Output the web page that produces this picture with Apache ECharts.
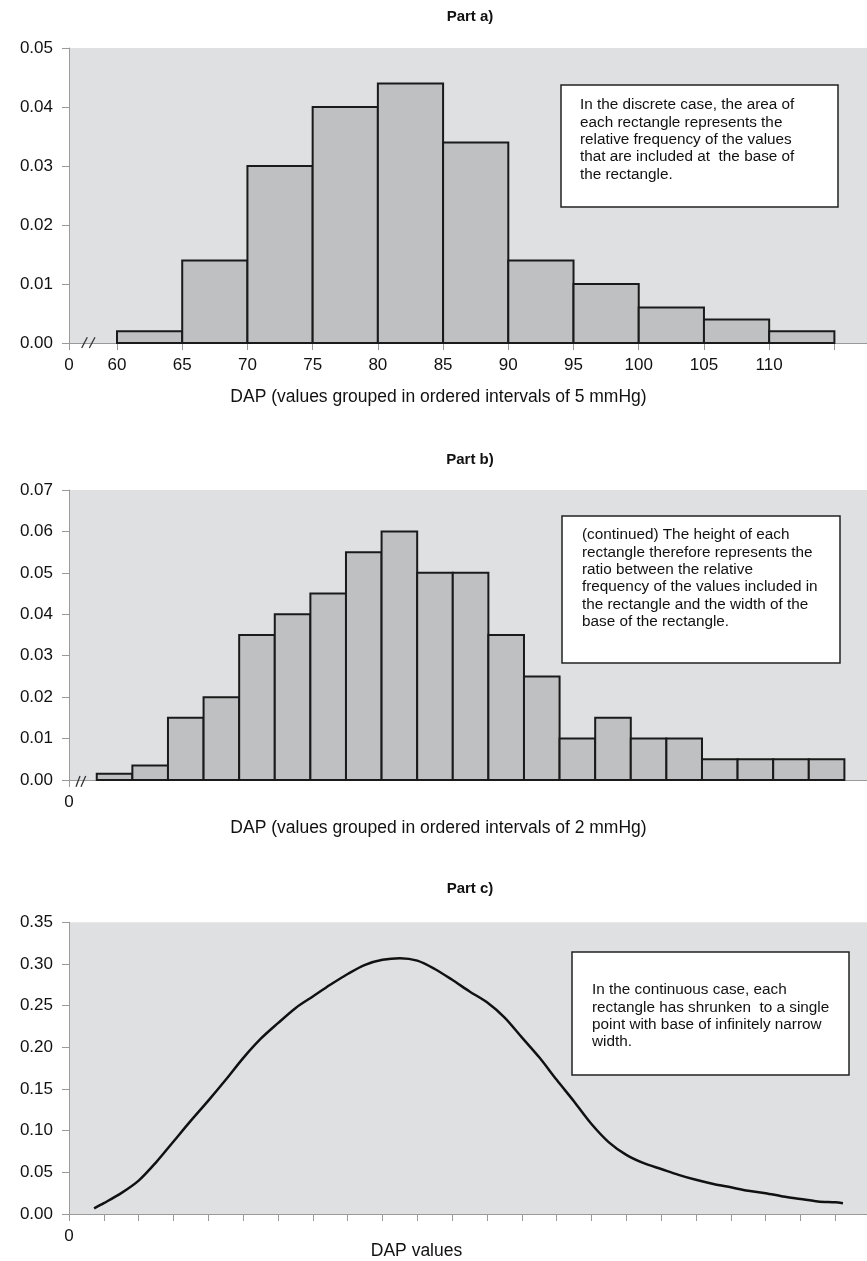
<!DOCTYPE html>
<html>
<head>
<meta charset="utf-8">
<script src="https://cdn.jsdelivr.net/npm/echarts@6/dist/echarts.min.js"></script>
<style>
html,body{margin:0;padding:0;background:#fff;}
#chart{width:867px;height:1261px;}
</style>
</head>
<body>
<div id="chart"></div>
<script>
// ---------- DATA ----------
// Part a: 5 mmHg bins
const binStartA = [60, 65, 70, 75, 80, 85, 90, 95, 100, 105, 110];
const binWidthA = 5;
const densityA = [0.002, 0.014, 0.030, 0.040, 0.044, 0.034, 0.014, 0.010, 0.006, 0.004, 0.002];
const tickLabelsA = [60, 65, 70, 75, 80, 85, 90, 95, 100, 105, 110];
const tickMarksA = [60, 65, 70, 75, 80, 85, 90, 95, 100, 105, 110, 115];

// Part b: 2 mmHg bins
const binStartB = [64, 66, 68, 70, 72, 74, 76, 78, 80, 82, 84, 86, 88, 90, 92, 94, 96, 98, 100, 102, 104];
const binWidthB = 2;
const densityB = [0.0015, 0.0035, 0.015, 0.020, 0.035, 0.040, 0.045, 0.055, 0.060, 0.050, 0.050,
                  0.035, 0.025, 0.010, 0.015, 0.010, 0.010, 0.005, 0.005, 0.005, 0.005];

// Part c: continuous density curve
const curveX = [0.72, 1, 1.5, 2, 2.5, 3, 3.5, 4, 4.5, 5, 5.5, 6, 6.5, 7, 7.5, 8, 8.5, 9, 9.5,
                10, 10.5, 11, 11.5, 12, 12.5, 13, 13.5, 14, 14.5, 15, 15.5, 16, 16.5, 17, 17.5,
                18, 18.5, 19, 19.5, 20, 20.5, 21, 21.5, 22, 22.22];
const curveY = [0.0068, 0.013, 0.025, 0.040, 0.062, 0.087, 0.112, 0.136, 0.161, 0.187, 0.210, 0.229,
                0.247, 0.261, 0.275, 0.288, 0.299, 0.305, 0.307,
                0.304, 0.294, 0.281, 0.267, 0.254, 0.236, 0.212, 0.188, 0.161, 0.135, 0.108, 0.086,
                0.071, 0.061, 0.054, 0.047, 0.041, 0.036, 0.032, 0.028, 0.025, 0.021, 0.018, 0.015,
                0.014, 0.013];
const tickMarksC = [0,1,2,3,4,5,6,7,8,9,10,11,12,13,14,15,16,17,18,19,20,21,22];

const titles = ['Part a)', 'Part b)', 'Part c)'];
const axisNames = ['DAP (values grouped in ordered intervals of 5 mmHg)',
                   'DAP (values grouped in ordered intervals of 2 mmHg)',
                   'DAP values'];
const notes = [
  ['In the discrete case, the area of', 'each rectangle represents the', 'relative frequency of the values', 'that are included at  the base of', 'the rectangle.'],
  ['(continued) The height of each', 'rectangle therefore represents the', 'ratio between the relative', 'frequency of the values included in', 'the rectangle and the width of the', 'base of the rectangle.'],
  ['In the continuous case, each', 'rectangle has shrunken  to a single', 'point with base of infinitely narrow', 'width.']
];

// ---------- CHART ----------
const FONT = '"Liberation Sans", Arial, sans-serif';
const PLOT_BG = '#dfe0e2';
const BAR_FILL = '#bfc0c2';
const AXIS_COL = '#9a9a9a';

const xMinA = 56.32, xMaxA = 117.5;
const xMinB = 62.44, xMaxB = 107.27;
const xMinC = 0, xMaxC = 22.91;

const rowsA = binStartA.map((s, i) => [s, s + binWidthA, densityA[i]]);
const rowsB = binStartB.map((s, i) => [s, s + binWidthB, densityB[i]]);
const rowsC = curveX.map((x, i) => [x, curveY[i]]);

function renderBar(params, api) {
  const p0 = api.coord([api.value(0), api.value(2)]);
  const p1 = api.coord([api.value(1), 0]);
  return {
    type: 'rect',
    shape: {x: p0[0], y: p0[1], width: p1[0] - p0[0], height: p1[1] - p0[1]},
    style: {fill: BAR_FILL, stroke: '#1a1a1a', lineWidth: 2}
  };
}

function yAxis(idx, max, interval) {
  return {
    gridIndex: idx, type: 'value', min: 0, max: max, interval: interval,
    axisLine: {show: true, lineStyle: {color: AXIS_COL, width: 1}},
    axisTick: {show: true, length: 7, lineStyle: {color: AXIS_COL}},
    splitLine: {show: false},
    axisLabel: {formatter: v => v.toFixed(2), fontSize: 17, color: '#111', margin: 16, fontFamily: FONT}
  };
}

function xAxis(idx, min, max, labelVals, tickVals, fmt) {
  return {
    gridIndex: idx, type: 'value', min: min, max: max,
    axisLine: {show: true, onZero: false, lineStyle: {color: AXIS_COL, width: 1}},
    axisTick: {show: true, length: 7, customValues: tickVals, lineStyle: {color: AXIS_COL}},
    splitLine: {show: false},
    axisLabel: {customValues: labelVals, formatter: fmt, fontSize: 17, color: '#111', margin: 14, fontFamily: FONT}
  };
}

const gridTops = [48, 490, 922.3];
const gridHeights = [295, 290, 291.7];

const graphics = [];
// titles
const titleY = [17, 460, 889];
titles.forEach((t, i) => {
  graphics.push({type: 'text', z: 100, x: 470, y: titleY[i],
    style: {text: t, font: 'bold 15px ' + FONT, fill: '#111', textAlign: 'center', textVerticalAlign: 'middle'}});
});
// axis names
const nameX = [438.5, 438.5, 416.5];
const nameY = [397, 828, 1251];
axisNames.forEach((t, i) => {
  graphics.push({type: 'text', z: 100, x: nameX[i], y: nameY[i],
    style: {text: t, font: '17.5px ' + FONT, fill: '#111', textAlign: 'center', textVerticalAlign: 'middle'}});
});
// note boxes
const boxes = [
  {x: 561, y: 85, w: 277, h: 122, tx: 580, ty: 105},
  {x: 562, y: 516, w: 278, h: 147, tx: 582, ty: 535},
  {x: 572, y: 952, w: 277, h: 123, tx: 592, ty: 990}
];
boxes.forEach((b, i) => {
  graphics.push({type: 'rect', z: 100, shape: {x: b.x, y: b.y, width: b.w, height: b.h},
    style: {fill: '#fff', stroke: '#222', lineWidth: 1.5}});
  notes[i].forEach((line, j) => {
    graphics.push({type: 'text', z: 101, x: b.tx, y: b.ty + j * 17.4,
      style: {text: line, font: '15.3px ' + FONT, fill: '#111', textAlign: 'left', textVerticalAlign: 'middle'}});
  });
});
// axis break marks
const breaks = [
  [[81.7, 348, 87.3, 337.3], [89.3, 348, 95, 337.3]],
  [[76, 786.7, 80, 776], [81, 786.7, 85.7, 776]]
];
breaks.forEach(pair => pair.forEach(s => {
  graphics.push({type: 'line', z: 100, shape: {x1: s[0], y1: s[1], x2: s[2], y2: s[3]},
    style: {stroke: '#333', lineWidth: 1.3}});
}));

const option = {
  animation: false,
  textStyle: {fontFamily: FONT},
  grid: gridTops.map((t, i) => ({
    left: 69, right: 0, top: t, height: gridHeights[i],
    show: true, backgroundColor: PLOT_BG, borderWidth: 0
  })),
  xAxis: [
    xAxis(0, xMinA, xMaxA, [xMinA].concat(tickLabelsA), [xMinA].concat(tickMarksA), v => (v < 59 ? '0' : String(v))),
    xAxis(1, xMinB, xMaxB, [xMinB], [xMinB], v => '0'),
    xAxis(2, xMinC, xMaxC, [0], tickMarksC, v => '0')
  ],
  yAxis: [yAxis(0, 0.05, 0.01), yAxis(1, 0.07, 0.01), yAxis(2, 0.35, 0.05)],
  series: [
    {type: 'custom', xAxisIndex: 0, yAxisIndex: 0, data: rowsA, renderItem: renderBar,
     encode: {x: [0, 1], y: 2}, z: 2},
    {type: 'custom', xAxisIndex: 1, yAxisIndex: 1, data: rowsB, renderItem: renderBar,
     encode: {x: [0, 1], y: 2}, z: 2},
    {type: 'line', xAxisIndex: 2, yAxisIndex: 2, data: rowsC, smooth: 0.3, showSymbol: false,
     lineStyle: {color: '#111', width: 2.5}, z: 2}
  ],
  graphic: graphics
};

const chart = echarts.init(document.getElementById('chart'), null, {renderer: 'canvas'});
chart.setOption(option);
</script>
</body>
</html>
